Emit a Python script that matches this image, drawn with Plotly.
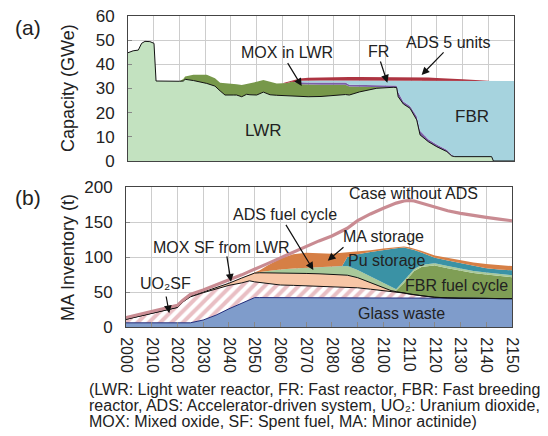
import plotly.graph_objects as go

# ---------------- (a) capacity (GWe): cumulative upper boundary of each stacked area
yrs_a = [2000, 2002, 2004, 2005.3, 2006.6, 2008.5, 2010.1, 2010.9, 2020, 2021.5,
         2022.2, 2025.4, 2030.6, 2033.8, 2035.8, 2037.7, 2040.9, 2042.2, 2044.2, 2046.1,
         2047.4, 2050, 2052.6, 2055.2, 2057.8, 2060, 2061.7, 2063.6, 2066, 2066.8,
         2070, 2075, 2080, 2084.5, 2086, 2090, 2096.7, 2100, 2103.1, 2104.4,
         2105, 2107, 2109.6, 2112.2, 2113.5, 2116.7, 2120, 2123.9, 2125.8, 2127,
         2130, 2135, 2138.8, 2141.3, 2142, 2150]
lwr_top = [44.8, 45.6, 45.9, 48.7, 49.5, 49.4, 48.7, 33.1, 33.0, 33.1,
           33.8, 33.3, 32.1, 31.0, 29.0, 27.3, 27.3, 27.3, 26.6, 27.6,
           27.4, 27.3, 28.5, 27.4, 27.2, 27.1, 27.0, 26.8, 26.7, 26.6,
           26.6, 26.7, 27.1, 27.5, 27.3, 28.6, 30.1, 30.4, 30.5, 30.4,
           26.6, 23.6, 21.8, 17.0, 10.8, 8.0, 5.9, 3.9, 2.1, 1.8,
           1.8, 1.8, 1.8, 1.8, 0, 0]
mox_lwr_top = [44.8, 45.6, 45.9, 48.7, 49.5, 49.4, 48.7, 33.1, 33.0, 33.9,
               35.0, 35.7, 35.7, 34.2, 32.4, 32.2, 32.1, 31.8, 31.4, 31.8,
               32.1, 32.8, 33.5, 32.8, 32.1, 32.2, 32.3, 32.8, 32.5, 31.8,
               31.6, 31.6, 31.6, 31.6, 30.8, 30.7, 30.6, 30.5, 30.5, 30.4,
               26.6, 23.6, 21.8, 17.0, 10.8, 8.0, 5.9, 3.9, 2.1, 1.8,
               1.8, 1.8, 1.8, 1.8, 0, 0]
fr_top = [44.8, 45.6, 45.9, 48.7, 49.5, 49.4, 48.7, 33.1, 33.0, 33.9,
          35.0, 35.7, 35.7, 34.2, 32.4, 32.2, 32.1, 31.8, 31.4, 31.8,
          32.1, 32.8, 33.5, 32.8, 32.1, 32.2, 32.3, 32.8, 32.5, 32.6,
          32.5, 32.5, 32.5, 32.5, 31.6, 31.5, 31.4, 31.3, 31.3, 31.2,
          28.5, 24.6, 22.8, 18.5, 12.5, 9.0, 6.8, 4.7, 2.6, 1.8,
          1.8, 1.8, 1.8, 1.8, 0, 0]
fbr_top = [44.8, 45.6, 45.9, 48.7, 49.5, 49.4, 48.7, 33.1, 33.0, 33.9,
           35.0, 35.7, 35.7, 34.2, 32.4, 32.2, 32.1, 31.8, 31.4, 31.8,
           32.1, 32.8, 33.5, 32.8, 32.1, 32.2, 32.3, 32.8, 32.5, 33.2,
           33.3, 33.3, 33.3, 33.3, 33.3, 33.3, 33.3, 33.3, 33.3, 33.3,
           33.3, 33.3, 33.3, 33.3, 33.3, 33.3, 33.3, 33.3, 33.3, 33.2,
           33.2, 33.1, 33.1, 33.1, 33.1, 33.1]
ads_top = [44.8, 45.6, 45.9, 48.7, 49.5, 49.4, 48.7, 33.1, 33.0, 33.9,
           35.0, 35.7, 35.7, 34.2, 32.4, 32.2, 32.1, 31.8, 31.4, 31.8,
           32.1, 32.8, 33.5, 32.8, 32.1, 32.2, 32.7, 33.4, 33.9, 34.1,
           34.4, 34.6, 34.7, 34.8, 34.8, 34.8, 34.8, 34.8, 34.8, 34.8,
           34.8, 34.8, 34.7, 34.7, 34.6, 34.5, 34.3, 34.2, 34.1, 34.0,
           33.8, 33.5, 33.1, 33.1, 33.1, 33.1]

# ---------------- (b) MA inventory (t): cumulative upper boundary of each stacked area
yrs_b = [2000, 2010, 2018, 2020, 2022, 2025, 2030, 2035, 2040, 2045,
         2048, 2050, 2052, 2055, 2060, 2065, 2070, 2075, 2080, 2084,
         2086, 2090, 2095, 2100, 2103, 2105, 2108, 2110, 2112, 2115,
         2120, 2125, 2130, 2135, 2140, 2145, 2150]
glass_top = [6, 6, 6, 6, 6, 6, 10, 17, 26, 34,
             39, 42, 42, 42, 42, 42, 42, 42, 42, 42,
             42, 42, 42, 42, 42, 42, 42, 42, 42, 41.5,
             41.5, 41.5, 41, 41, 41, 40.5, 40.5]
uo2sf_top = [11, 19.5, 25.5, 28, 35.5, 43, 49, 54.5, 59.5, 63,
             66, 64.5, 63.5, 62, 60, 59.5, 59, 58.5, 58, 57.5,
             57, 56, 54, 52, 51, 50, 48.5, 47, 46, 44.5,
             42.5, 41.5, 41, 41, 41, 40.5, 40.5]
moxsf_top = [11, 19.5, 25.5, 28, 36, 44, 50, 56, 62.5, 70,
             74.5, 77, 77.5, 77.5, 77.5, 77, 76.5, 76, 75, 74.5,
             74, 70.5, 63, 56, 52, 50.5, 48.5, 47, 46, 44.5,
             42.5, 41.5, 41, 41, 41, 40.5, 40.5]
fbrfc_top = [11, 19.5, 25.5, 28, 36, 44, 50, 56, 62.5, 70,
             74.5, 77, 77.5, 77.5, 77.5, 77, 76.5, 76, 75, 74.5,
             74, 70.5, 63, 56, 52.5, 52, 63, 72, 80, 86,
             88, 84, 80, 77, 75, 73, 71]
adsfc_top = [11, 19.5, 25.5, 28, 36, 44, 50, 56, 62.5, 70,
             74.5, 77, 78.5, 80, 82, 83.5, 84.5, 85.5, 86.5, 87,
             87, 81.5, 72, 62.5, 57, 54, 66, 75, 83, 89,
             91, 87, 83, 80, 78, 76, 74]
pu_top = [11, 19.5, 25.5, 28, 36, 44, 50, 56, 62.5, 70,
          74.5, 77, 78.5, 80, 82, 83.5, 84.5, 85.5, 86.5, 87,
          100, 104, 107, 110, 111.5, 112.5, 113.5, 112, 110, 106,
          99, 95, 91, 87, 84, 82, 81]
ma_top = [11, 19.5, 25.5, 28, 36, 44, 50, 56, 62.5, 70,
          74.5, 77, 81, 88, 98, 104, 106, 105.5, 104.5, 106,
          106.5, 107.5, 109.5, 112, 113, 114, 115, 114, 112, 108.5,
          102, 98.5, 95, 92, 90, 88.5, 87]
no_ads = [13.5, 22.5, 29, 31, 38, 46.5, 53, 60, 67, 74.5,
          79.5, 83, 86, 90.5, 98.8, 107, 115.7, 123, 130, 137.5,
          141, 152, 161.5, 169.6, 174, 177, 180, 180.7, 180, 177,
          171, 166, 162.4, 159, 156.6, 154, 151.8]

decades = [2000, 2010, 2020, 2030, 2040, 2050, 2060, 2070, 2080, 2090,
           2100, 2110, 2120, 2130, 2140, 2150]
decade_labels = ["2000", "2010", "2020", "2030", "2040", "2050", "2060", "2070",
                 "2080", "2090", "2100", "2110", "2120", "2130", "2140", "2150"]
cap_ticks = [0, 10, 20, 30, 40, 50, 60]
ma_ticks = [0, 50, 100, 150, 200]

FONT = "Liberation Sans, Arial, Helvetica, sans-serif"
W, H = 548, 436

fig = go.Figure()


def area(x, y, color, xa, ya, first=False, pattern=None):
    kw = dict(x=x, y=y, xaxis=xa, yaxis=ya, mode="lines",
              line=dict(width=0, color=color),
              fill="tozeroy" if first else "tonexty",
              fillcolor=color, hoverinfo="skip", showlegend=False)
    if pattern is not None:
        kw["fillpattern"] = pattern
    fig.add_trace(go.Scatter(**kw))


def line(x, y, color, width, xa, ya):
    fig.add_trace(go.Scatter(x=x, y=y, xaxis=xa, yaxis=ya, mode="lines",
                             line=dict(color=color, width=width),
                             hoverinfo="skip", showlegend=False))


# panel (a)
area(yrs_a, lwr_top, "#c3e2c0", "x", "y", first=True)
area(yrs_a, mox_lwr_top, "#77984a", "x", "y")
area(yrs_a, fr_top, "#7b5ea7", "x", "y")
area(yrs_a, fbr_top, "#a6d3de", "x", "y")
area(yrs_a, ads_top, "#ad3441", "x", "y")
line(yrs_a, lwr_top, "#111111", 1, "x", "y")

# panel (b)
area(yrs_b, glass_top, "#7f9ccb", "x2", "y2", first=True)
area(yrs_b, uo2sf_top, "#ffffff", "x2", "y2",
     pattern=dict(shape="/", fgcolor="#d47f89", bgcolor="#ffffff",
                  size=8, solidity=0.5))
area(yrs_b, moxsf_top, "#f7c6a6", "x2", "y2")
area(yrs_b, fbrfc_top, "#7f9e55", "x2", "y2")
area(yrs_b, adsfc_top, "#a9c99a", "x2", "y2")
area(yrs_b, pu_top, "#3a92a5", "x2", "y2")
area(yrs_b, ma_top, "#d67f45", "x2", "y2")
line(yrs_b, glass_top, "#1f2a7a", 1, "x2", "y2")
line(yrs_b, uo2sf_top, "#111111", 1, "x2", "y2")
line(yrs_b, moxsf_top, "#111111", 1, "x2", "y2")
line(yrs_b, no_ads, "#c98b92", 3.2, "x2", "y2")

axis_common = dict(showline=True, mirror=True, linecolor="#444444", linewidth=1,
                   showgrid=True, gridcolor="#cdcdcd", gridwidth=1, zeroline=False,
                   automargin=False,
                   tickfont=dict(family=FONT, size=17, color="#222222"),
                   ticks="inside", tickcolor="#888888", ticklen=4)

fig.update_layout(
    width=W, height=H, margin=dict(l=0, r=0, t=0, b=0, pad=0, autoexpand=False),
    paper_bgcolor="white", plot_bgcolor="white",
    font=dict(family=FONT, size=16, color="#222222"),
    xaxis=dict(axis_common, domain=[128 / W, 514 / W], range=[2000, 2150], anchor="y",
               tickvals=decades, showticklabels=False, ticks=""),
    yaxis=dict(axis_common, domain=[1 - 161 / H, 1 - 16 / H], range=[0, 60], anchor="x",
               tickvals=cap_ticks, ticklabelstandoff=9),
    xaxis2=dict(axis_common, domain=[126 / W, 512 / W], range=[2000, 2150], anchor="y2",
                tickvals=decades, ticktext=decade_labels, tickangle=90, ticklen=5,
                tickfont=dict(family=FONT, size=16, color="#222222"),
                ticklabelstandoff=6),
    yaxis2=dict(axis_common, domain=[1 - 327 / H, 1 - 187 / H], range=[0, 200], anchor="x2",
                tickvals=ma_ticks, ticklabelstandoff=9),
)

ann = []


def label(text, x, y, xref, yref, size=16):
    ann.append(dict(text=text, x=x, y=y, xref=xref, yref=yref, showarrow=False,
                    font=dict(family=FONT, size=size, color="#222222"),
                    xanchor="center", yanchor="middle"))


def arrow(x, y, ax, ay, xref, yref):
    ann.append(dict(text="", x=x, y=y, ax=ax, ay=ay, xref=xref, yref=yref,
                    axref=xref, ayref=yref, showarrow=True, arrowhead=2,
                    arrowsize=1.3, arrowwidth=1.2, arrowcolor="#111111"))


# panel (a) labels
label("MOX in LWR", 2061.6, 44.7, "x", "y")
arrow(2067.5, 31.0, 2061.7, 41.1, "x", "y")
label("FR", 2097.3, 45.2, "x", "y")
arrow(2100.8, 32.4, 2097.9, 41.8, "x", "y")
label("ADS 5 units", 2124.5, 48.9, "x", "y")
arrow(2114.1, 35.6, 2123.2, 45.6, "x", "y")
label("LWR", 2052.6, 12.8, "x", "y", 17)
label("FBR", 2133.6, 18.6, "x", "y", 17)

# panel (b) labels
label("Case without ADS", 2111.9, 190, "x2", "y2")
label("ADS fuel cycle", 2061.7, 161, "x2", "y2")
arrow(2072.8, 81.4, 2061.8, 148, "x2", "y2")
label("MA storage", 2100.2, 129, "x2", "y2")
arrow(2078.4, 94.7, 2085.1, 115.7, "x2", "y2")
label("Pu storage", 2101.4, 95.7, "x2", "y2")
label("FBR fuel cycle", 2128.5, 60, "x2", "y2")
label("Glass waste", 2106.9, 19.6, "x2", "y2")
label("MOX SF from LWR", 2037.3, 112.9, "x2", "y2")
arrow(2040.8, 64.7, 2039.1, 102.9, "x2", "y2")
label("UO₂SF", 2015.2, 62.4, "x2", "y2")
arrow(2016.8, 19.6, 2015.5, 45.7, "x2", "y2")

# panel tags and axis titles
for txt, yy in [("(a)", 27), ("(b)", 197)]:
    ann.append(dict(text=txt, x=28 / W, y=1 - yy / H, xref="paper", yref="paper",
                    showarrow=False, xanchor="center", yanchor="middle",
                    font=dict(family=FONT, size=21, color="#222222")))
for txt, yy in [("Capacity (GWe)", 88), ("MA Inventory (t)", 258)]:
    ann.append(dict(text=txt, x=68 / W, y=1 - yy / H, xref="paper", yref="paper",
                    showarrow=False, xanchor="center", yanchor="middle", textangle=-90,
                    font=dict(family=FONT, size=18, color="#222222")))

caption = ["(LWR: Light water reactor, FR: Fast reactor, FBR: Fast breeding",
           "reactor, ADS: Accelerator-driven system, UO₂: Uranium dioxide,",
           "MOX: Mixed oxide, SF: Spent fuel, MA: Minor actinide)"]
for i, txt in enumerate(caption):
    ann.append(dict(text=txt, x=87 / W, y=1 - (389 + 16 * i) / H, xref="paper", yref="paper",
                    showarrow=False, xanchor="left", yanchor="middle",
                    font=dict(family=FONT, size=16, color="#222222")))

fig.update_layout(annotations=ann)
fig.write_html("out.html", config={"displayModeBar": False},
               post_script="document.body.style.margin='0px';"
                           "document.body.style.overflow='hidden';")
